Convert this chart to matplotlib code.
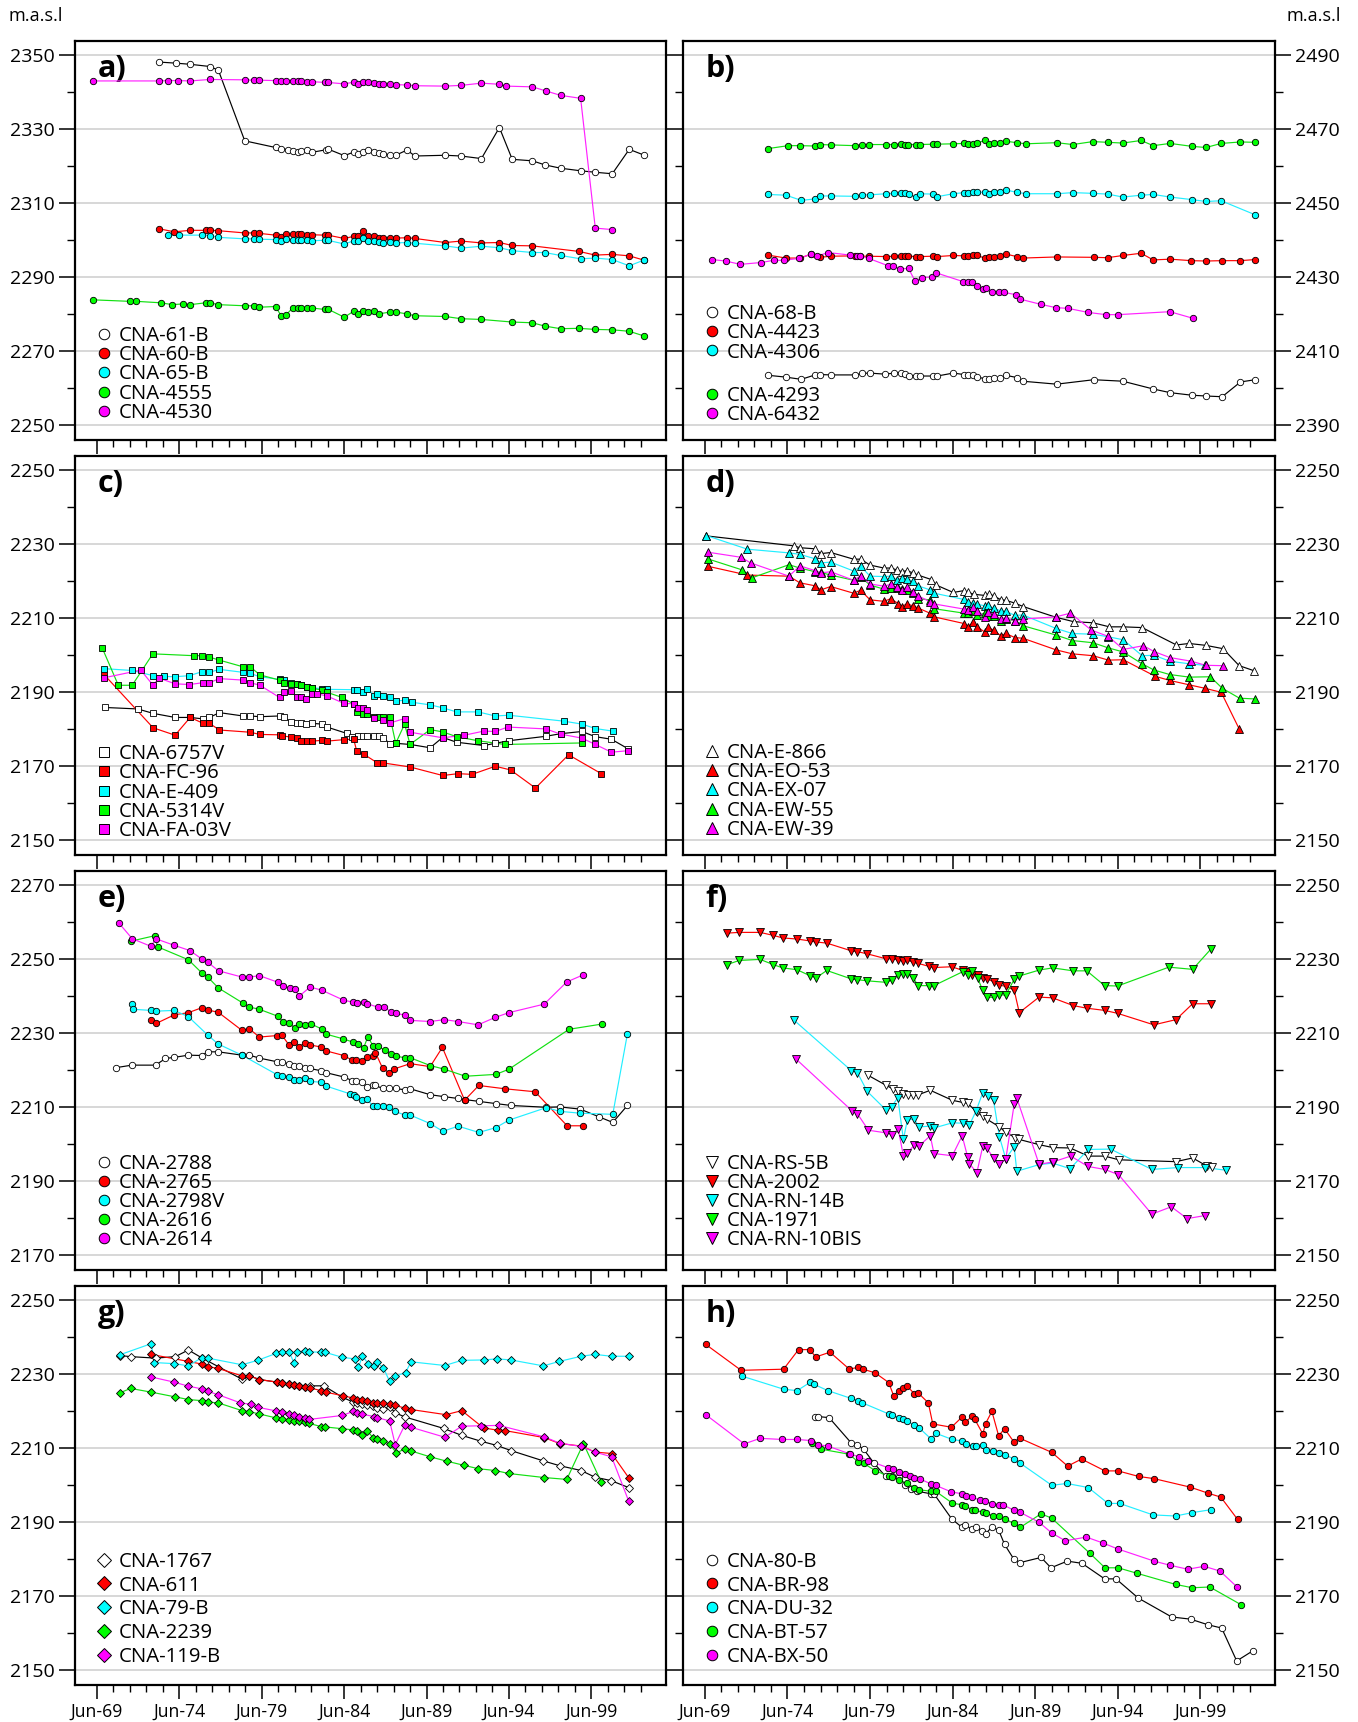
import matplotlib
matplotlib.use('Agg')
import matplotlib.pyplot as plt
from matplotlib.lines import Line2D

plt.rcParams['font.family'] = ['Open Sans', 'DejaVu Sans']

#============================================
# data: decimal years (Jun-69 = 1969.45) and head (m.a.s.l)
#============================================
# ---- panel a
a61_t = [1973.24, 1974.27, 1975.11, 1976.31, 1976.82, 1978.42, 1980.29, 1980.64, 1981.05, 1981.35, 1981.65, 1981.83, 1982.21, 1982.49, 1983.38, 1983.46, 1984.46, 1985.06, 1985.28, 1985.60, 1985.87, 1986.28, 1986.55, 1986.82, 1987.23, 1987.58, 1988.26, 1988.75, 1990.59, 1991.54, 1992.78, 1993.87, 1994.65, 1995.87, 1996.63, 1997.58, 1998.80, 1999.69, 2000.72, 2001.75, 2002.67]
a61_h = [2348.2, 2347.9, 2347.6, 2347.0, 2346.0, 2326.9, 2325.1, 2324.8, 2324.5, 2324.2, 2323.8, 2324.2, 2324.4, 2323.8, 2324.5, 2324.7, 2322.9, 2323.9, 2323.4, 2323.8, 2324.4, 2324.0, 2323.6, 2323.4, 2323.1, 2323.0, 2324.4, 2322.8, 2323.0, 2322.8, 2322.1, 2330.5, 2321.9, 2321.5, 2320.4, 2319.5, 2318.8, 2318.4, 2318.0, 2324.6, 2323.0]
a60_t = [1973.24, 1974.14, 1975.11, 1976.04, 1976.31, 1976.82, 1978.42, 1978.96, 1979.26, 1980.29, 1980.64, 1980.94, 1981.35, 1981.65, 1981.83, 1982.21, 1982.49, 1983.27, 1983.46, 1984.46, 1985.06, 1985.28, 1985.60, 1985.87, 1986.28, 1986.55, 1986.82, 1987.23, 1987.58, 1988.26, 1988.75, 1990.59, 1991.54, 1992.78, 1993.87, 1994.65, 1995.87, 1998.69, 1999.69, 2000.72, 2001.75, 2002.67]
a60_h = [2303.1, 2302.3, 2302.7, 2302.7, 2302.7, 2302.6, 2302.0, 2302.0, 2301.9, 2301.4, 2301.0, 2301.7, 2301.6, 2301.6, 2301.6, 2301.4, 2301.5, 2301.4, 2301.4, 2300.5, 2301.1, 2301.1, 2302.5, 2301.2, 2301.3, 2300.5, 2300.7, 2300.6, 2300.6, 2300.7, 2300.5, 2299.4, 2299.8, 2299.3, 2299.4, 2298.6, 2298.5, 2297.0, 2296.0, 2296.2, 2295.8, 2294.6]
a65_t = [1973.76, 1974.41, 1975.82, 1976.31, 1976.82, 1978.42, 1978.96, 1979.26, 1980.29, 1980.64, 1980.94, 1981.35, 1981.65, 1981.83, 1982.21, 1982.49, 1983.27, 1983.46, 1984.46, 1985.06, 1985.28, 1985.60, 1985.87, 1986.28, 1986.55, 1986.82, 1987.23, 1987.58, 1988.26, 1988.75, 1990.59, 1991.54, 1992.78, 1993.87, 1994.65, 1995.87, 1996.63, 1997.58, 1998.80, 1999.69, 2000.72, 2001.75, 2002.67]
a65_h = [2301.5, 2301.4, 2301.4, 2301.3, 2300.8, 2300.4, 2300.4, 2300.3, 2300.2, 2299.8, 2300.3, 2300.1, 2300.1, 2300.1, 2300.2, 2299.9, 2300.0, 2300.0, 2299.0, 2299.9, 2299.9, 2300.7, 2299.8, 2299.9, 2299.5, 2299.4, 2299.5, 2299.3, 2299.4, 2299.2, 2298.5, 2297.9, 2298.4, 2298.0, 2297.2, 2296.7, 2296.7, 2295.9, 2295.0, 2295.2, 2294.8, 2293.1, 2294.7]
a4555_t = [1969.23, 1971.43, 1971.83, 1973.33, 1974.03, 1974.65, 1975.11, 1976.04, 1976.31, 1976.82, 1978.42, 1978.96, 1979.26, 1980.29, 1980.64, 1980.94, 1981.35, 1981.65, 1981.83, 1982.21, 1982.49, 1983.27, 1983.46, 1984.46, 1985.06, 1985.28, 1985.60, 1985.87, 1986.28, 1986.55, 1987.23, 1987.58, 1988.26, 1988.75, 1990.59, 1991.54, 1992.78, 1994.65, 1995.87, 1996.63, 1997.58, 1998.69, 1999.69, 2000.72, 2001.75, 2002.67]
a4555_h = [2283.9, 2283.5, 2283.5, 2283.1, 2282.6, 2282.8, 2282.6, 2283.1, 2283.1, 2282.6, 2282.3, 2282.3, 2281.9, 2282.1, 2279.5, 2279.9, 2281.8, 2281.8, 2281.8, 2281.8, 2281.7, 2281.3, 2281.4, 2279.2, 2280.9, 2280.1, 2280.9, 2280.7, 2280.9, 2280.1, 2280.6, 2280.6, 2280.1, 2279.6, 2279.4, 2278.8, 2278.6, 2277.9, 2277.7, 2276.8, 2276.1, 2276.2, 2275.9, 2275.8, 2275.4, 2274.1]
a4530_t = [1969.23, 1973.24, 1973.76, 1974.36, 1975.11, 1976.31, 1978.42, 1978.96, 1979.26, 1980.29, 1980.64, 1980.94, 1981.35, 1981.65, 1981.83, 1982.21, 1982.49, 1983.27, 1983.46, 1984.46, 1985.06, 1985.28, 1985.60, 1985.87, 1986.28, 1986.55, 1986.82, 1987.23, 1987.58, 1988.26, 1988.75, 1990.59, 1991.54, 1992.78, 1993.87, 1994.30, 1995.87, 1996.69, 1997.58, 1998.80, 1999.69, 2000.72]
a4530_h = [2343.1, 2343.1, 2343.2, 2343.2, 2343.1, 2343.5, 2343.4, 2343.3, 2343.3, 2343.2, 2343.1, 2343.1, 2343.1, 2343.1, 2343.1, 2342.9, 2342.9, 2342.7, 2342.7, 2342.3, 2342.8, 2342.3, 2342.9, 2342.9, 2342.5, 2342.3, 2342.3, 2342.2, 2342.1, 2342.0, 2341.8, 2341.7, 2341.9, 2342.5, 2342.2, 2341.7, 2341.5, 2340.4, 2339.2, 2338.4, 2303.3, 2302.9]

# ---- panel b
b68_t = [1973.27, 1974.36, 1975.28, 1976.12, 1976.44, 1977.09, 1978.53, 1978.96, 1979.42, 1980.37, 1980.91, 1981.35, 1981.56, 1981.81, 1982.21, 1982.46, 1983.24, 1983.52, 1984.49, 1985.14, 1985.41, 1985.68, 1985.95, 1986.39, 1986.66, 1986.93, 1987.34, 1987.66, 1988.34, 1988.69, 1990.75, 1993.00, 1994.76, 1996.60, 1997.63, 1998.96, 1999.80, 2000.78, 2001.89, 2002.78]
b68_h = [2403.5, 2403.0, 2402.4, 2403.6, 2403.7, 2403.6, 2403.6, 2404.0, 2404.1, 2403.8, 2404.1, 2404.2, 2403.8, 2403.4, 2403.4, 2403.3, 2403.3, 2403.3, 2404.1, 2403.7, 2403.7, 2403.5, 2403.0, 2402.6, 2402.6, 2402.7, 2402.7, 2403.5, 2402.9, 2401.9, 2401.1, 2402.3, 2401.9, 2399.8, 2398.8, 2398.1, 2397.9, 2397.7, 2401.7, 2402.3]
b4423_t = [1973.27, 1974.36, 1975.22, 1975.90, 1976.39, 1977.09, 1978.53, 1978.83, 1979.37, 1980.43, 1980.91, 1981.35, 1981.56, 1981.75, 1982.21, 1982.46, 1983.24, 1983.52, 1984.49, 1985.14, 1985.41, 1985.68, 1985.95, 1986.39, 1986.66, 1986.93, 1987.34, 1987.66, 1988.34, 1988.69, 1990.75, 1993.00, 1993.84, 1994.76, 1995.87, 1996.60, 1997.63, 1998.91, 1999.83, 2000.78, 2001.89, 2002.78]
b4423_h = [2436.0, 2435.2, 2435.2, 2436.3, 2435.4, 2435.7, 2435.8, 2435.7, 2435.7, 2435.6, 2435.7, 2435.7, 2435.7, 2435.7, 2435.6, 2435.6, 2435.7, 2435.6, 2435.9, 2435.8, 2435.7, 2435.9, 2435.9, 2435.2, 2435.6, 2435.5, 2435.7, 2436.3, 2435.6, 2435.2, 2435.5, 2435.4, 2435.3, 2435.9, 2436.5, 2434.7, 2434.9, 2434.5, 2434.4, 2434.5, 2434.5, 2434.8]
b4306_t = [1973.27, 1974.36, 1975.28, 1976.12, 1976.39, 1977.09, 1978.53, 1978.96, 1979.42, 1980.43, 1980.91, 1981.35, 1981.56, 1981.81, 1982.21, 1982.46, 1983.24, 1983.52, 1984.49, 1985.14, 1985.41, 1985.68, 1985.95, 1986.39, 1986.66, 1986.93, 1987.34, 1987.66, 1988.34, 1988.88, 1990.78, 1991.73, 1992.95, 1993.84, 1994.76, 1995.87, 1996.60, 1997.63, 1998.96, 1999.80, 2000.72, 2002.78]
b4306_h = [2452.4, 2452.2, 2450.8, 2451.2, 2452.0, 2452.0, 2451.9, 2452.3, 2452.3, 2452.6, 2452.7, 2452.8, 2452.7, 2452.5, 2451.6, 2452.6, 2452.5, 2451.8, 2452.6, 2452.9, 2452.8, 2453.0, 2453.0, 2453.0, 2452.4, 2453.1, 2453.0, 2453.6, 2453.0, 2452.6, 2452.6, 2452.9, 2452.7, 2452.5, 2451.7, 2452.2, 2452.4, 2451.7, 2451.0, 2450.5, 2450.7, 2446.9]
b4293_t = [1973.27, 1974.49, 1975.22, 1976.12, 1976.39, 1977.09, 1978.53, 1978.96, 1979.37, 1980.43, 1980.91, 1981.35, 1981.56, 1981.75, 1982.21, 1982.46, 1983.24, 1983.52, 1984.49, 1985.14, 1985.41, 1985.68, 1985.95, 1986.39, 1986.66, 1986.93, 1987.34, 1987.66, 1988.34, 1988.88, 1990.75, 1991.73, 1992.95, 1993.84, 1994.76, 1995.87, 1996.60, 1997.63, 1998.96, 1999.80, 2000.72, 2001.89, 2002.78]
b4293_h = [2464.8, 2465.6, 2465.6, 2465.5, 2465.9, 2465.8, 2465.6, 2465.9, 2465.9, 2465.9, 2465.9, 2466.0, 2465.9, 2465.9, 2465.9, 2465.9, 2466.0, 2466.0, 2466.1, 2466.2, 2466.1, 2466.1, 2466.2, 2467.1, 2466.0, 2466.3, 2466.3, 2466.8, 2466.4, 2466.1, 2466.4, 2465.9, 2466.7, 2466.5, 2466.3, 2467.0, 2465.6, 2466.2, 2465.4, 2465.1, 2466.2, 2466.6, 2466.5]
b6432_t = [1969.88, 1970.70, 1971.59, 1972.86, 1973.62, 1974.22, 1975.14, 1975.90, 1976.25, 1976.90, 1978.26, 1978.64, 1978.85, 1979.37, 1980.56, 1980.86, 1981.27, 1981.78, 1982.19, 1982.57, 1983.19, 1983.46, 1985.11, 1985.41, 1985.60, 1985.95, 1986.28, 1986.47, 1986.85, 1987.28, 1987.58, 1988.28, 1988.53, 1989.78, 1990.70, 1991.43, 1992.67, 1993.73, 1994.49, 1997.61, 1999.02]
b6432_h = [2434.8, 2434.4, 2433.5, 2434.0, 2434.6, 2434.6, 2435.1, 2436.3, 2435.7, 2436.7, 2436.0, 2435.8, 2435.8, 2435.1, 2433.1, 2433.0, 2432.3, 2432.4, 2428.9, 2429.9, 2430.1, 2431.2, 2428.8, 2428.7, 2428.6, 2427.7, 2426.8, 2427.2, 2426.1, 2426.1, 2425.9, 2425.3, 2424.1, 2422.7, 2421.8, 2421.6, 2420.5, 2419.9, 2419.9, 2420.7, 2418.9]

# ---- panel c
c6757_t = [1969.91, 1971.92, 1972.86, 1974.19, 1975.11, 1975.90, 1976.28, 1976.88, 1978.31, 1978.75, 1979.34, 1980.53, 1980.83, 1981.21, 1981.56, 1981.81, 1982.16, 1982.49, 1983.11, 1983.41, 1984.60, 1984.92, 1985.28, 1985.57, 1985.85, 1986.28, 1986.55, 1986.82, 1987.23, 1987.58, 1988.45, 1989.67, 1990.43, 1991.27, 1992.92, 1993.62, 1994.44, 1996.69, 1997.58, 1998.88, 1999.69, 2000.67, 2001.65]
c6757_h = [2185.9, 2185.5, 2184.3, 2183.2, 2183.2, 2182.8, 2183.2, 2184.5, 2183.6, 2183.6, 2183.4, 2183.6, 2183.2, 2181.9, 2181.6, 2181.6, 2181.3, 2181.6, 2181.4, 2180.6, 2178.9, 2178.0, 2178.2, 2178.3, 2178.3, 2178.3, 2178.1, 2177.7, 2176.1, 2176.2, 2175.9, 2175.0, 2177.8, 2176.5, 2175.6, 2176.2, 2176.9, 2178.1, 2178.8, 2179.4, 2178.0, 2177.3, 2174.8]
cFC96_t = [1969.86, 1972.86, 1974.19, 1975.11, 1975.90, 1976.28, 1976.88, 1978.75, 1979.34, 1980.53, 1980.70, 1981.21, 1981.56, 1981.86, 1982.21, 1982.49, 1983.11, 1983.41, 1984.44, 1985.03, 1985.22, 1985.66, 1986.47, 1986.82, 1988.45, 1990.43, 1991.37, 1992.21, 1993.62, 1994.55, 1996.06, 1998.07, 2000.05]
cFC96_h = [2194.9, 2180.4, 2178.4, 2183.2, 2181.6, 2181.6, 2179.8, 2179.2, 2178.6, 2178.5, 2178.2, 2177.9, 2177.7, 2176.9, 2176.8, 2176.8, 2177.0, 2176.8, 2177.2, 2177.3, 2174.0, 2173.2, 2170.9, 2170.9, 2169.8, 2167.5, 2168.0, 2167.8, 2170.0, 2169.0, 2164.1, 2173.1, 2168.0]
cE409_t = [1969.86, 1971.59, 1972.86, 1973.52, 1974.19, 1975.06, 1975.85, 1976.28, 1976.88, 1978.31, 1978.75, 1979.34, 1980.53, 1980.83, 1981.21, 1981.56, 1981.86, 1982.21, 1982.49, 1983.11, 1983.41, 1985.03, 1985.22, 1985.57, 1985.85, 1986.28, 1986.47, 1986.82, 1987.23, 1987.58, 1988.12, 1988.56, 1989.67, 1990.43, 1991.27, 1992.57, 1993.62, 1994.44, 1997.77, 1998.88, 1999.69, 2000.75]
cE409_h = [2196.4, 2195.9, 2194.5, 2194.3, 2194.2, 2194.5, 2195.6, 2195.4, 2196.2, 2195.4, 2195.1, 2194.2, 2193.5, 2193.2, 2192.4, 2192.2, 2192.0, 2191.5, 2191.2, 2191.0, 2190.8, 2190.7, 2190.7, 2190.2, 2190.9, 2189.1, 2189.6, 2189.1, 2188.6, 2187.7, 2187.8, 2187.3, 2186.6, 2185.8, 2184.7, 2184.7, 2183.6, 2183.8, 2182.2, 2181.4, 2180.2, 2179.5]
c5314_t = [1969.78, 1970.75, 1971.59, 1972.84, 1975.33, 1975.82, 1976.28, 1976.88, 1978.31, 1978.75, 1979.34, 1980.53, 1980.83, 1981.21, 1981.56, 1981.86, 1982.21, 1982.49, 1983.11, 1983.41, 1984.33, 1985.03, 1985.22, 1985.57, 1985.85, 1986.28, 1986.55, 1986.82, 1987.23, 1987.58, 1988.12, 1988.45, 1989.67, 1990.43, 1991.27, 1992.57, 1994.19, 1998.88]
c5314_h = [2201.9, 2191.9, 2191.9, 2200.4, 2199.9, 2199.9, 2199.5, 2198.7, 2196.9, 2196.9, 2194.7, 2193.3, 2192.6, 2192.3, 2192.2, 2192.0, 2191.5, 2191.1, 2190.6, 2190.0, 2188.6, 2186.8, 2184.8, 2184.1, 2184.2, 2183.4, 2183.2, 2183.2, 2183.4, 2176.2, 2181.4, 2175.9, 2179.9, 2179.3, 2178.0, 2176.9, 2175.9, 2176.3]
cFA03_t = [1969.86, 1972.11, 1972.84, 1973.24, 1974.19, 1975.06, 1975.90, 1976.28, 1976.88, 1978.31, 1978.75, 1979.34, 1980.53, 1980.83, 1981.21, 1981.56, 1981.86, 1982.16, 1982.49, 1982.78, 1983.41, 1984.44, 1985.03, 1985.28, 1985.57, 1985.85, 1986.28, 1986.82, 1987.23, 1988.12, 1988.45, 1990.43, 1991.75, 1992.92, 1993.62, 1994.38, 1996.69, 1997.58, 1998.88, 1999.69, 2000.67, 2001.65]
cFA03_h = [2193.9, 2196.0, 2192.0, 2193.8, 2192.3, 2192.1, 2192.6, 2192.6, 2193.7, 2193.3, 2192.6, 2191.9, 2188.6, 2190.1, 2190.4, 2188.8, 2188.8, 2188.2, 2189.6, 2189.6, 2189.0, 2187.0, 2186.9, 2185.7, 2185.7, 2185.1, 2183.0, 2182.4, 2181.7, 2182.9, 2179.2, 2177.7, 2178.4, 2179.5, 2179.4, 2180.6, 2180.1, 2178.7, 2177.6, 2175.9, 2173.8, 2174.2]

# ---- panel d
dE866_t = [1969.53, 1974.84, 1975.20, 1976.12, 1976.47, 1977.07, 1978.45, 1978.88, 1979.45, 1980.29, 1980.70, 1981.08, 1981.37, 1981.67, 1982.05, 1982.35, 1983.16, 1983.46, 1984.49, 1985.14, 1985.41, 1985.76, 1986.39, 1986.66, 1986.96, 1987.39, 1987.66, 1988.23, 1988.72, 1990.70, 1991.78, 1992.95, 1993.95, 1994.79, 1995.93, 1998.01, 1998.77, 1999.78, 2000.83, 2001.81, 2002.73]
dE866_h = [2232.3, 2229.6, 2229.1, 2228.8, 2227.5, 2227.8, 2226.0, 2226.0, 2224.4, 2223.6, 2223.6, 2223.1, 2222.6, 2222.9, 2222.3, 2221.7, 2220.5, 2219.0, 2217.0, 2217.5, 2217.0, 2216.5, 2216.2, 2216.7, 2216.0, 2215.0, 2214.9, 2214.1, 2213.2, 2210.3, 2209.1, 2208.8, 2207.7, 2207.7, 2207.5, 2202.8, 2203.2, 2202.7, 2201.8, 2197.2, 2195.8]
dEO53_t = [1969.61, 1972.02, 1974.54, 1975.20, 1976.12, 1976.47, 1977.07, 1978.45, 1978.88, 1979.45, 1980.29, 1980.70, 1981.16, 1981.37, 1981.67, 1982.05, 1982.35, 1983.08, 1983.33, 1985.14, 1985.41, 1985.68, 1985.95, 1986.39, 1986.60, 1986.93, 1987.39, 1987.66, 1988.23, 1988.72, 1990.70, 1991.70, 1992.95, 1993.89, 1994.79, 1996.74, 1997.61, 1998.80, 1999.72, 2000.72, 2001.81]
dEO53_h = [2224.1, 2221.7, 2221.4, 2219.6, 2218.8, 2217.7, 2218.6, 2216.8, 2217.6, 2215.0, 2214.6, 2215.3, 2214.0, 2213.2, 2213.9, 2213.4, 2212.8, 2211.4, 2210.4, 2208.6, 2207.7, 2209.0, 2207.7, 2206.3, 2207.6, 2206.8, 2205.2, 2205.9, 2204.8, 2204.6, 2201.5, 2200.4, 2199.9, 2198.7, 2198.8, 2194.3, 2193.2, 2192.0, 2191.1, 2190.0, 2180.1]
dEX07_t = [1969.53, 1972.02, 1974.54, 1975.20, 1976.12, 1976.47, 1977.07, 1978.45, 1978.88, 1979.45, 1980.29, 1980.70, 1981.08, 1981.37, 1981.67, 1982.05, 1982.35, 1983.08, 1983.33, 1985.14, 1985.41, 1985.68, 1985.95, 1986.39, 1986.60, 1986.93, 1987.39, 1987.66, 1988.23, 1988.72, 1990.70, 1991.70, 1992.95, 1993.89, 1994.79, 1995.93, 1996.66, 1997.61, 1998.80, 1999.72]
dEX07_h = [2232.4, 2228.7, 2227.7, 2227.3, 2226.1, 2225.0, 2225.2, 2222.8, 2224.1, 2221.4, 2221.3, 2221.4, 2220.4, 2220.8, 2220.7, 2220.0, 2218.8, 2217.7, 2216.8, 2215.1, 2214.3, 2214.1, 2213.8, 2213.4, 2213.6, 2212.7, 2212.0, 2211.9, 2210.8, 2210.9, 2207.3, 2205.9, 2205.7, 2205.0, 2204.2, 2199.9, 2200.0, 2198.4, 2197.7, 2197.3]
dEW55_t = [1969.61, 1971.70, 1972.32, 1974.54, 1975.20, 1976.12, 1976.47, 1977.07, 1978.45, 1978.88, 1979.45, 1980.29, 1980.70, 1981.16, 1981.37, 1981.67, 1982.05, 1982.35, 1983.08, 1983.33, 1985.14, 1985.41, 1985.68, 1985.95, 1986.39, 1986.60, 1986.93, 1987.39, 1987.66, 1988.23, 1988.72, 1990.70, 1991.70, 1992.95, 1993.89, 1994.79, 1995.93, 1996.66, 1997.61, 1998.80, 2000.07, 2000.78, 2001.83, 2002.78]
dEW55_h = [2226.1, 2223.1, 2221.0, 2224.5, 2223.6, 2222.6, 2222.4, 2221.7, 2220.3, 2221.2, 2219.0, 2217.9, 2218.1, 2218.1, 2217.8, 2217.6, 2216.8, 2215.3, 2215.0, 2212.6, 2211.4, 2211.4, 2212.0, 2210.8, 2211.4, 2210.6, 2210.5, 2209.3, 2209.8, 2209.3, 2208.0, 2205.5, 2204.0, 2203.4, 2202.0, 2200.9, 2197.7, 2196.0, 2194.8, 2194.1, 2194.2, 2191.1, 2188.4, 2188.2]
dEW39_t = [1969.61, 1971.65, 1972.21, 1974.54, 1975.20, 1976.12, 1976.47, 1977.07, 1978.45, 1978.88, 1979.45, 1980.29, 1980.70, 1981.08, 1981.37, 1981.67, 1982.05, 1982.35, 1983.08, 1983.33, 1985.14, 1985.41, 1985.68, 1985.95, 1986.39, 1986.60, 1986.93, 1987.39, 1987.66, 1988.23, 1988.72, 1990.70, 1991.59, 1992.86, 1993.89, 1994.79, 1996.01, 1996.66, 1997.61, 1998.91, 1999.78, 2000.83]
dEW39_h = [2227.9, 2226.5, 2225.0, 2221.4, 2224.2, 2222.9, 2222.3, 2222.6, 2220.3, 2221.5, 2219.3, 2218.7, 2219.2, 2218.4, 2217.7, 2218.4, 2217.1, 2216.1, 2214.5, 2213.9, 2212.5, 2212.3, 2213.2, 2212.1, 2210.4, 2211.8, 2211.1, 2209.7, 2210.2, 2209.3, 2209.8, 2210.4, 2211.4, 2206.8, 2205.1, 2201.6, 2202.6, 2201.0, 2199.4, 2198.4, 2197.3, 2197.2]

# ---- panel e
e2788_t = [1970.58, 1971.57, 1973.01, 1973.61, 1974.14, 1975.00, 1975.80, 1976.18, 1976.81, 1978.25, 1978.70, 1979.31, 1980.39, 1980.68, 1981.11, 1981.42, 1981.69, 1982.05, 1982.36, 1983.03, 1983.32, 1984.43, 1984.95, 1985.20, 1985.56, 1985.84, 1986.18, 1986.35, 1986.78, 1987.19, 1987.62, 1988.13, 1988.46, 1989.67, 1990.48, 1991.33, 1991.76, 1992.62, 1993.66, 1994.57, 1996.71, 1997.55, 1998.78, 1999.93, 2000.75, 2001.64]
e2788_h = [2220.7, 2221.4, 2221.4, 2223.2, 2223.5, 2224.1, 2224.0, 2225.0, 2225.0, 2224.1, 2224.1, 2223.3, 2222.3, 2222.3, 2221.7, 2221.2, 2221.2, 2220.5, 2220.5, 2219.9, 2219.4, 2218.2, 2217.2, 2217.1, 2216.8, 2215.4, 2215.9, 2215.9, 2215.1, 2215.1, 2215.1, 2214.7, 2215.0, 2213.4, 2212.9, 2212.4, 2212.1, 2211.6, 2211.0, 2210.5, 2210.0, 2210.1, 2209.5, 2207.4, 2205.9, 2210.5]
e2765_t = [1972.74, 1973.06, 1974.14, 1975.00, 1975.80, 1976.18, 1976.81, 1978.25, 1978.70, 1979.31, 1980.39, 1980.68, 1981.11, 1981.42, 1981.69, 1982.05, 1982.36, 1983.03, 1983.32, 1984.43, 1984.95, 1985.20, 1985.56, 1985.84, 1986.18, 1986.35, 1986.78, 1987.19, 1987.50, 1988.46, 1989.67, 1990.41, 1991.76, 1992.62, 1994.21, 1996.04, 1997.98, 1998.97]
e2765_h = [2233.6, 2232.7, 2235.0, 2235.6, 2236.9, 2236.3, 2235.7, 2230.8, 2231.2, 2229.0, 2229.4, 2229.5, 2226.8, 2227.7, 2226.4, 2227.3, 2226.9, 2226.3, 2225.3, 2224.0, 2222.7, 2222.8, 2222.4, 2223.5, 2223.8, 2224.8, 2220.6, 2219.3, 2220.4, 2221.8, 2221.0, 2226.2, 2211.9, 2215.9, 2215.0, 2214.2, 2205.0, 2205.0]
e2798_t = [1971.59, 1971.66, 1972.74, 1973.06, 1974.14, 1975.00, 1976.18, 1976.81, 1978.25, 1980.39, 1980.68, 1981.11, 1981.42, 1981.69, 1982.05, 1982.36, 1983.03, 1983.32, 1984.83, 1985.03, 1985.20, 1985.56, 1985.84, 1986.18, 1986.42, 1986.78, 1987.19, 1987.53, 1988.13, 1988.46, 1989.67, 1990.44, 1991.37, 1992.62, 1993.66, 1994.43, 1996.71, 1997.55, 1998.78, 2000.75, 2001.64]
e2798_h = [2238.0, 2236.5, 2236.2, 2236.0, 2236.2, 2234.5, 2229.5, 2227.1, 2224.1, 2218.8, 2218.5, 2218.2, 2217.4, 2217.3, 2217.9, 2217.0, 2216.8, 2215.8, 2213.6, 2213.3, 2212.9, 2212.0, 2212.3, 2210.3, 2210.4, 2210.3, 2210.0, 2208.9, 2207.9, 2207.9, 2205.6, 2203.5, 2204.9, 2203.2, 2204.5, 2206.5, 2209.9, 2208.9, 2208.4, 2208.1, 2229.9]
e2616_t = [1971.49, 1972.96, 1973.13, 1975.00, 1975.80, 1976.18, 1976.81, 1978.30, 1978.70, 1979.31, 1980.44, 1980.72, 1981.11, 1981.47, 1981.69, 1982.05, 1982.41, 1983.08, 1983.34, 1984.40, 1985.00, 1985.27, 1985.63, 1985.89, 1986.20, 1986.49, 1986.90, 1987.29, 1987.62, 1988.13, 1988.46, 1989.67, 1990.53, 1991.81, 1993.66, 1994.45, 1998.10, 2000.08]
e2616_h = [2254.9, 2256.4, 2253.4, 2249.9, 2246.4, 2245.2, 2242.3, 2238.2, 2237.1, 2236.5, 2234.6, 2233.2, 2232.8, 2231.4, 2232.4, 2232.3, 2232.6, 2231.2, 2229.8, 2228.5, 2227.6, 2227.0, 2226.0, 2229.1, 2226.6, 2226.7, 2225.4, 2224.3, 2223.8, 2223.4, 2223.4, 2221.3, 2220.3, 2218.4, 2218.9, 2220.3, 2231.1, 2232.5]
e2614_t = [1970.77, 1971.59, 1972.74, 1973.01, 1974.14, 1975.08, 1975.82, 1976.18, 1976.83, 1978.27, 1978.68, 1979.31, 1980.44, 1980.72, 1981.16, 1981.45, 1981.71, 1982.38, 1983.08, 1984.40, 1985.00, 1985.24, 1985.63, 1985.84, 1986.49, 1986.88, 1987.31, 1987.62, 1988.15, 1988.46, 1989.67, 1990.53, 1991.35, 1992.58, 1993.61, 1994.45, 1996.59, 1997.96, 1998.95]
e2614_h = [2259.9, 2255.6, 2253.5, 2255.6, 2253.8, 2252.4, 2250.1, 2249.2, 2246.9, 2245.2, 2245.2, 2245.6, 2243.8, 2242.9, 2242.3, 2242.0, 2240.0, 2242.5, 2241.7, 2239.0, 2238.4, 2238.1, 2238.6, 2238.0, 2237.1, 2237.0, 2235.8, 2235.4, 2234.9, 2233.5, 2233.2, 2233.7, 2233.2, 2232.3, 2234.3, 2235.6, 2237.9, 2243.9, 2245.8]

# ---- panel f
fRS5B_t = [1979.35, 1980.44, 1980.82, 1981.16, 1981.47, 1981.76, 1982.07, 1982.38, 1983.10, 1984.43, 1985.08, 1985.36, 1985.92, 1986.28, 1986.52, 1987.29, 1987.67, 1988.25, 1988.49, 1989.69, 1990.53, 1991.57, 1992.67, 1993.66, 1994.52, 1997.98, 1998.99, 1999.86, 2000.15]
fRS5B_h = [2198.6, 2195.9, 2195.0, 2194.5, 2193.7, 2193.4, 2193.4, 2193.4, 2194.6, 2191.9, 2191.3, 2191.1, 2188.7, 2187.6, 2186.8, 2184.7, 2183.2, 2181.8, 2181.3, 2179.9, 2179.1, 2179.0, 2176.8, 2176.8, 2175.8, 2175.3, 2176.3, 2174.1, 2173.8]
f2002_t = [1970.80, 1971.52, 1972.79, 1973.58, 1974.16, 1975.03, 1975.80, 1976.18, 1976.83, 1978.32, 1978.68, 1979.28, 1980.39, 1980.75, 1981.13, 1981.47, 1981.71, 1982.07, 1982.38, 1983.03, 1983.32, 1984.40, 1985.08, 1985.36, 1985.63, 1985.96, 1986.28, 1986.54, 1986.93, 1987.24, 1987.67, 1988.18, 1988.49, 1989.69, 1990.51, 1991.76, 1992.58, 1993.66, 1994.45, 1996.64, 1997.98, 1998.99, 2000.08]
f2002_h = [2237.1, 2237.3, 2237.3, 2236.5, 2235.8, 2235.5, 2235.0, 2234.7, 2234.4, 2232.3, 2232.1, 2231.5, 2230.2, 2230.2, 2229.9, 2229.6, 2229.8, 2229.2, 2228.9, 2228.1, 2227.8, 2228.0, 2227.0, 2226.6, 2225.9, 2225.8, 2225.0, 2224.7, 2224.0, 2223.1, 2222.7, 2221.7, 2215.6, 2219.8, 2219.6, 2217.5, 2216.8, 2216.2, 2215.4, 2212.3, 2213.7, 2218.0, 2218.0]
fRN14_t = [1974.86, 1978.32, 1978.68, 1979.28, 1980.39, 1980.75, 1981.13, 1981.47, 1981.71, 1982.12, 1982.43, 1983.10, 1983.32, 1984.43, 1985.08, 1985.46, 1985.87, 1986.28, 1986.59, 1986.93, 1987.29, 1987.67, 1988.18, 1988.34, 1989.69, 1990.51, 1991.57, 1992.67, 1994.02, 1996.52, 1998.13, 1999.71, 2000.99]
fRN14_h = [2213.5, 2199.9, 2199.4, 2194.3, 2189.4, 2190.1, 2192.6, 2181.3, 2186.6, 2186.8, 2184.7, 2184.9, 2184.4, 2185.8, 2185.7, 2185.1, 2189.0, 2194.0, 2193.1, 2191.9, 2182.0, 2176.1, 2179.3, 2172.7, 2174.5, 2174.9, 2173.4, 2178.6, 2178.7, 2173.2, 2173.7, 2173.7, 2173.0]
f1971_t = [1970.80, 1971.52, 1972.79, 1973.58, 1974.16, 1975.03, 1975.80, 1976.18, 1976.83, 1978.32, 1978.68, 1979.28, 1980.39, 1980.75, 1981.13, 1981.47, 1981.71, 1982.07, 1982.38, 1983.03, 1983.32, 1985.08, 1985.36, 1985.63, 1985.96, 1986.28, 1986.54, 1986.93, 1987.24, 1987.67, 1988.18, 1988.49, 1989.69, 1990.51, 1991.76, 1992.58, 1993.66, 1994.45, 1997.55, 1998.99, 2000.08]
f1971_h = [2228.6, 2229.7, 2230.0, 2228.6, 2227.7, 2227.2, 2225.6, 2225.0, 2227.0, 2224.7, 2224.5, 2224.2, 2223.8, 2224.3, 2225.9, 2226.1, 2226.1, 2224.9, 2222.9, 2222.9, 2222.9, 2226.7, 2225.9, 2226.8, 2225.0, 2221.6, 2219.8, 2219.7, 2220.5, 2220.3, 2224.6, 2225.5, 2227.1, 2227.7, 2226.9, 2226.9, 2222.9, 2222.8, 2227.9, 2227.3, 2232.7]
fRN10_t = [1974.98, 1978.37, 1978.68, 1979.35, 1980.39, 1980.75, 1981.16, 1981.47, 1981.71, 1982.12, 1982.43, 1983.10, 1983.32, 1984.43, 1985.03, 1985.36, 1985.46, 1985.92, 1986.28, 1986.52, 1986.93, 1987.29, 1987.67, 1988.18, 1988.34, 1989.69, 1990.51, 1991.61, 1992.65, 1993.66, 1994.50, 1996.52, 1997.70, 1998.66, 1999.71]
fRN10_h = [2203.0, 2189.0, 2188.3, 2183.8, 2183.1, 2182.6, 2184.0, 2176.9, 2177.7, 2179.7, 2179.6, 2182.3, 2177.5, 2176.9, 2182.3, 2176.6, 2174.8, 2172.3, 2179.5, 2179.0, 2176.3, 2174.6, 2175.9, 2190.8, 2192.5, 2174.6, 2175.2, 2176.8, 2174.0, 2173.2, 2171.8, 2161.1, 2163.1, 2159.9, 2160.7]

# ---- panel g
g1767_t = [1970.84, 1971.49, 1973.01, 1974.21, 1975.00, 1975.80, 1978.25, 1978.70, 1979.31, 1980.39, 1980.68, 1981.11, 1981.42, 1981.69, 1982.05, 1982.36, 1983.22, 1984.35, 1985.00, 1985.24, 1985.56, 1985.84, 1986.20, 1986.47, 1986.83, 1987.21, 1987.55, 1988.13, 1990.48, 1991.59, 1992.77, 1993.70, 1994.57, 1996.54, 1997.53, 1998.83, 1999.67, 2000.63, 2001.71]
g1767_h = [2235.1, 2234.8, 2234.4, 2234.8, 2236.6, 2234.5, 2228.7, 2229.6, 2228.6, 2227.9, 2227.7, 2227.3, 2227.1, 2226.9, 2226.7, 2226.9, 2226.9, 2223.8, 2222.5, 2222.3, 2222.0, 2221.8, 2221.5, 2221.0, 2220.6, 2221.3, 2219.6, 2218.5, 2215.4, 2213.5, 2211.9, 2210.8, 2209.4, 2206.6, 2205.3, 2204.0, 2202.2, 2201.3, 2199.4]
g611_t = [1972.74, 1975.00, 1975.80, 1976.18, 1976.81, 1978.25, 1978.70, 1979.31, 1980.39, 1980.68, 1981.11, 1981.42, 1981.69, 1982.05, 1982.36, 1983.03, 1983.32, 1984.40, 1985.00, 1985.24, 1985.56, 1985.84, 1986.20, 1986.47, 1986.83, 1987.21, 1987.55, 1988.13, 1988.51, 1990.63, 1991.59, 1992.91, 1993.80, 1994.21, 1996.59, 1997.53, 1998.87, 1999.67, 2000.68, 2001.71]
g611_h = [2235.4, 2233.5, 2232.8, 2232.1, 2231.6, 2229.6, 2229.6, 2228.6, 2227.9, 2227.7, 2227.3, 2227.0, 2226.9, 2226.7, 2226.4, 2225.6, 2225.2, 2224.2, 2223.6, 2223.1, 2223.0, 2222.9, 2222.3, 2222.3, 2222.2, 2222.0, 2221.6, 2220.9, 2220.5, 2219.1, 2220.2, 2215.5, 2214.9, 2214.8, 2212.9, 2211.3, 2210.6, 2209.0, 2208.6, 2202.1]
g79B_t = [1970.84, 1972.74, 1972.94, 1974.14, 1975.00, 1975.80, 1976.18, 1978.25, 1979.21, 1980.34, 1980.70, 1981.11, 1981.42, 1981.59, 1982.05, 1982.29, 1983.03, 1983.27, 1984.35, 1985.08, 1985.32, 1985.56, 1985.92, 1986.28, 1986.42, 1986.83, 1987.21, 1987.55, 1988.18, 1988.51, 1990.56, 1991.59, 1992.91, 1993.73, 1994.57, 1996.54, 1997.50, 1998.83, 1999.67, 2000.68, 2001.71]
g79B_h = [2235.3, 2238.3, 2233.2, 2232.9, 2232.3, 2234.5, 2234.4, 2232.6, 2233.8, 2235.7, 2236.1, 2236.1, 2233.0, 2236.0, 2236.4, 2236.1, 2236.0, 2236.0, 2234.6, 2234.2, 2231.9, 2235.0, 2232.8, 2232.3, 2233.3, 2231.8, 2228.1, 2229.5, 2230.5, 2233.4, 2232.4, 2233.8, 2233.9, 2234.2, 2233.9, 2232.3, 2233.5, 2234.9, 2235.4, 2234.9, 2234.9]
g2239_t = [1970.84, 1971.49, 1972.74, 1974.21, 1975.00, 1975.80, 1976.18, 1976.81, 1978.25, 1978.70, 1979.31, 1980.34, 1980.70, 1981.11, 1981.42, 1981.69, 1982.05, 1982.29, 1983.03, 1983.27, 1984.35, 1985.00, 1985.24, 1985.56, 1985.84, 1986.20, 1986.47, 1986.83, 1987.21, 1987.62, 1988.13, 1988.51, 1989.67, 1990.70, 1991.73, 1992.58, 1993.63, 1994.43, 1996.59, 1997.96, 1998.97, 2000.05]
g2239_h = [2225.0, 2226.2, 2225.2, 2223.9, 2223.2, 2222.9, 2222.5, 2222.3, 2220.2, 2219.9, 2219.3, 2218.2, 2217.9, 2217.7, 2217.5, 2217.5, 2217.2, 2216.8, 2215.9, 2215.8, 2215.3, 2215.0, 2214.8, 2213.7, 2214.8, 2212.9, 2212.4, 2212.0, 2211.1, 2208.8, 2209.8, 2209.3, 2207.7, 2206.5, 2205.4, 2204.5, 2204.0, 2203.2, 2202.1, 2201.6, 2211.3, 2200.9]
g119B_t = [1972.74, 1974.14, 1975.00, 1975.80, 1976.18, 1976.81, 1978.15, 1978.80, 1979.21, 1980.34, 1980.70, 1981.11, 1981.42, 1981.69, 1982.05, 1982.29, 1984.35, 1985.00, 1985.24, 1985.56, 1986.28, 1986.47, 1987.21, 1987.55, 1988.13, 1988.51, 1990.56, 1991.59, 1992.77, 1993.85, 1996.59, 1997.53, 1998.83, 1999.67, 2000.68, 2001.71]
g119B_h = [2229.3, 2227.9, 2226.8, 2226.1, 2225.4, 2224.5, 2222.3, 2221.9, 2221.1, 2220.1, 2219.7, 2219.3, 2219.1, 2218.6, 2218.2, 2217.8, 2218.9, 2220.0, 2219.5, 2219.2, 2218.6, 2218.3, 2217.4, 2211.0, 2216.3, 2215.7, 2213.0, 2216.0, 2216.1, 2216.2, 2213.1, 2211.4, 2210.5, 2209.0, 2207.7, 2195.8]

# ---- panel h
h80B_t = [1976.11, 1976.30, 1976.97, 1978.32, 1978.68, 1979.07, 1979.67, 1980.39, 1980.75, 1981.18, 1981.59, 1981.95, 1982.31, 1983.15, 1983.32, 1984.40, 1985.00, 1985.20, 1985.60, 1985.84, 1986.25, 1986.45, 1986.83, 1987.24, 1987.60, 1988.15, 1988.54, 1989.81, 1990.41, 1991.40, 1992.29, 1993.66, 1994.35, 1995.70, 1997.72, 1998.87, 1999.91, 2000.75, 2001.66, 2002.62]
h80B_h = [2218.6, 2218.6, 2218.3, 2211.4, 2211.0, 2209.7, 2206.1, 2202.4, 2202.4, 2202.3, 2200.2, 2199.0, 2198.4, 2197.7, 2197.7, 2190.9, 2188.7, 2189.4, 2188.1, 2188.7, 2187.6, 2186.9, 2188.7, 2187.9, 2184.0, 2180.1, 2179.1, 2180.5, 2177.7, 2179.5, 2178.9, 2174.7, 2174.7, 2169.5, 2164.4, 2163.8, 2162.3, 2161.4, 2152.5, 2155.2]
hBR98_t = [1969.50, 1971.64, 1974.21, 1975.12, 1975.80, 1976.16, 1977.02, 1978.20, 1978.70, 1979.04, 1979.76, 1980.58, 1980.89, 1981.18, 1981.47, 1981.71, 1982.14, 1982.36, 1982.98, 1983.25, 1984.38, 1985.03, 1985.22, 1985.63, 1985.80, 1986.28, 1986.45, 1986.83, 1987.24, 1987.60, 1988.15, 1988.54, 1990.46, 1991.42, 1992.26, 1993.68, 1994.47, 1995.72, 1996.66, 1998.85, 1999.91, 2000.70, 2001.71]
hBR98_h = [2238.1, 2231.1, 2231.4, 2236.7, 2236.7, 2234.7, 2236.0, 2231.4, 2231.9, 2231.4, 2230.4, 2227.8, 2224.1, 2225.6, 2226.3, 2226.8, 2224.7, 2225.0, 2222.3, 2216.6, 2215.7, 2218.5, 2217.0, 2218.7, 2217.8, 2213.9, 2216.7, 2220.0, 2213.4, 2215.3, 2211.8, 2212.7, 2208.9, 2205.2, 2207.1, 2203.9, 2203.9, 2202.4, 2201.8, 2199.5, 2197.9, 2196.8, 2190.8]
hDU32_t = [1971.71, 1974.21, 1975.03, 1975.84, 1976.06, 1976.90, 1978.30, 1978.75, 1978.99, 1980.58, 1980.77, 1981.23, 1981.47, 1981.71, 1982.14, 1982.41, 1983.13, 1983.42, 1984.43, 1985.03, 1985.27, 1985.70, 1985.87, 1986.28, 1986.47, 1986.88, 1987.24, 1987.60, 1988.18, 1988.54, 1990.46, 1991.37, 1992.67, 1993.87, 1994.57, 1996.59, 1997.96, 1998.95, 2000.08]
hDU32_h = [2229.5, 2226.0, 2225.6, 2227.9, 2227.3, 2225.6, 2223.5, 2222.9, 2222.3, 2219.3, 2219.1, 2218.2, 2217.9, 2217.4, 2216.2, 2215.6, 2212.6, 2214.1, 2212.4, 2212.0, 2211.2, 2210.5, 2210.5, 2210.8, 2209.6, 2209.2, 2208.8, 2208.3, 2207.1, 2206.0, 2200.0, 2200.5, 2199.4, 2195.1, 2195.1, 2192.0, 2191.7, 2192.6, 2193.4]
hBT57_t = [1975.92, 1976.45, 1978.20, 1978.75, 1979.07, 1979.76, 1980.58, 1980.77, 1981.23, 1981.66, 1982.14, 1982.41, 1983.13, 1983.42, 1984.43, 1985.03, 1985.22, 1985.63, 1985.80, 1986.28, 1986.47, 1986.88, 1987.24, 1987.60, 1988.18, 1988.54, 1989.81, 1990.46, 1992.77, 1993.68, 1994.47, 1995.63, 1997.96, 1998.97, 2000.03, 2001.93]
hBT57_h = [2211.4, 2209.8, 2208.4, 2206.2, 2205.9, 2204.0, 2202.4, 2202.3, 2201.4, 2200.5, 2199.4, 2198.8, 2198.4, 2198.4, 2195.2, 2194.7, 2194.4, 2193.4, 2193.3, 2192.7, 2192.6, 2191.7, 2191.6, 2190.9, 2189.7, 2188.6, 2192.3, 2191.1, 2181.6, 2177.7, 2177.7, 2176.2, 2173.2, 2172.3, 2172.5, 2167.7]
hBX50_t = [1969.50, 1971.83, 1972.79, 1974.14, 1975.03, 1975.87, 1976.30, 1976.90, 1978.22, 1978.78, 1979.35, 1980.51, 1980.87, 1981.23, 1981.59, 1981.85, 1982.14, 1982.48, 1983.13, 1983.42, 1984.38, 1985.03, 1985.27, 1985.63, 1986.13, 1986.42, 1986.83, 1987.24, 1987.53, 1988.18, 1988.54, 1989.69, 1990.46, 1991.28, 1992.55, 1993.56, 1994.45, 1996.66, 1997.60, 1998.70, 1999.69, 2000.65, 2001.66]
hBX50_h = [2219.1, 2211.2, 2212.7, 2212.4, 2212.4, 2212.1, 2211.0, 2210.6, 2208.5, 2207.7, 2206.7, 2204.8, 2204.3, 2203.7, 2203.1, 2202.6, 2201.9, 2201.7, 2200.4, 2200.0, 2198.2, 2197.7, 2197.2, 2196.9, 2195.9, 2195.8, 2195.0, 2194.7, 2194.7, 2193.2, 2192.7, 2190.0, 2187.1, 2185.0, 2186.0, 2184.4, 2182.8, 2179.5, 2178.4, 2177.3, 2178.1, 2176.8, 2172.6]

# well names per panel
a_names = ['CNA-61-B', 'CNA-60-B', 'CNA-65-B', 'CNA-4555', 'CNA-4530']
b_names = ['CNA-68-B', 'CNA-4423', 'CNA-4306', 'CNA-4293', 'CNA-6432']
c_names = ['CNA-6757V', 'CNA-FC-96', 'CNA-E-409', 'CNA-5314V', 'CNA-FA-03V']
d_names = ['CNA-E-866', 'CNA-EO-53', 'CNA-EX-07', 'CNA-EW-55', 'CNA-EW-39']
e_names = ['CNA-2788', 'CNA-2765', 'CNA-2798V', 'CNA-2616', 'CNA-2614']
f_names = ['CNA-RS-5B', 'CNA-2002', 'CNA-RN-14B', 'CNA-1971', 'CNA-RN-10BIS']
g_names = ['CNA-1767', 'CNA-611', 'CNA-79-B', 'CNA-2239', 'CNA-119-B']
h_names = ['CNA-80-B', 'CNA-BR-98', 'CNA-DU-32', 'CNA-BT-57', 'CNA-BX-50']

# tick labels
years_lab = [69, 74, 79, 84, 89, 94, 99]

#============================================
# plotting
#============================================
JUN = 0.45
face = ['white', '#ff0000', '#00ffff', '#00ff00', '#ff00ff']
lcol = ['black', '#ff0000', '#22eeff', '#11e011', '#ff22ff']
msize = {'o': 4.6, 's': 4.3, '^': 5.2, 'v': 5.2, 'D': 4.2}

panels = [
    ('a)', 2250, 'o', [(a61_t, a61_h), (a60_t, a60_h), (a65_t, a65_h), (a4555_t, a4555_h), (a4530_t, a4530_h)], a_names),
    ('b)', 2390, 'o', [(b68_t, b68_h), (b4423_t, b4423_h), (b4306_t, b4306_h), (b4293_t, b4293_h), (b6432_t, b6432_h)], b_names),
    ('c)', 2150, 's', [(c6757_t, c6757_h), (cFC96_t, cFC96_h), (cE409_t, cE409_h), (c5314_t, c5314_h), (cFA03_t, cFA03_h)], c_names),
    ('d)', 2150, '^', [(dE866_t, dE866_h), (dEO53_t, dEO53_h), (dEX07_t, dEX07_h), (dEW55_t, dEW55_h), (dEW39_t, dEW39_h)], d_names),
    ('e)', 2170, 'o', [(e2788_t, e2788_h), (e2765_t, e2765_h), (e2798_t, e2798_h), (e2616_t, e2616_h), (e2614_t, e2614_h)], e_names),
    ('f)', 2150, 'v', [(fRS5B_t, fRS5B_h), (f2002_t, f2002_h), (fRN14_t, fRN14_h), (f1971_t, f1971_h), (fRN10_t, fRN10_h)], f_names),
    ('g)', 2150, 'D', [(g1767_t, g1767_h), (g611_t, g611_h), (g79B_t, g79B_h), (g2239_t, g2239_h), (g119B_t, g119B_h)], g_names),
    ('h)', 2150, 'o', [(h80B_t, h80B_h), (hBR98_t, hBR98_h), (hDU32_t, hDU32_h), (hBT57_t, hBT57_h), (hBX50_t, hBX50_h)], h_names),
]

# legend bottom (axes fraction) per panel
leg_y = {'a)': 0.043, 'b)': 0.038, 'c)': 0.035, 'd)': 0.038,
         'e)': 0.049, 'f)': 0.049, 'g)': 0.046, 'h)': 0.046}

W, H = 1358, 1722
fig = plt.figure(figsize=(W/100, H/100), dpi=100)
col_left = [75, 683]
col_w = [591, 592]
row_top = [41, 456, 871, 1286]
ph = 399

LEG_FS = 14.7

def make_legend(ax, handles, labels, y0, lsp):
    return ax.legend(handles, labels, loc='lower left', bbox_to_anchor=(0.035, y0),
                     frameon=False, fontsize=LEG_FS, handlelength=0.8, handletextpad=0.35,
                     labelspacing=lsp, borderpad=0, borderaxespad=0)

for k, (lab, base, mk, series, names) in enumerate(panels):
    row, col = divmod(k, 2)
    ax = fig.add_axes([col_left[col]/W, 1 - (row_top[row] + ph)/H, col_w[col]/W, ph/H])

    for i, (t, h) in enumerate(series):
        n = min(len(t), len(h))
        ax.plot(t[:n], h[:n], '-', color=lcol[i], lw=0.85, zorder=2+i)
        ax.plot(t[:n], h[:n], ls='none', marker=mk, ms=msize[mk], mfc=face[i],
                mec='black', mew=0.6, zorder=10+i)

    ax.set_xlim(1968.12, 2003.98)
    ax.set_ylim(base - 4.0, base + 103.9)

    # x ticks
    ax.set_xticks([1900 + y + JUN for y in years_lab])
    ax.set_xticks([1969 + y + JUN for y in range(34)], minor=True)
    if row == 3:
        ax.set_xticklabels(['Jun-%02d' % y for y in years_lab])
    else:
        ax.set_xticklabels([])
    ax.tick_params(axis='x', which='major', direction='out', length=10, width=1.1,
                   labelsize=12.7, pad=3, top=False)
    ax.tick_params(axis='x', which='minor', direction='out', length=5, width=1.0, top=False)

    # y ticks
    ax.set_yticks(range(base, base + 101, 20))
    ax.set_yticks(range(base + 10, base + 100, 20), minor=True)
    if col == 0:
        ax.tick_params(axis='y', which='both', left=True, right=False, labelleft=True, labelright=False)
    else:
        ax.tick_params(axis='y', which='both', left=True, right=True, labelleft=False, labelright=True)
    ax.tick_params(axis='y', which='major', direction='out', length=11.5, width=1.1, labelsize=14, pad=3)
    ax.tick_params(axis='y', which='minor', direction='out', length=5.5, width=1.0)

    ax.yaxis.grid(True, which='major', color='#d4d4d4', lw=1.3)
    ax.set_axisbelow(True)
    for s in ax.spines.values():
        s.set_linewidth(1.6)

    ax.text(0.038, 0.93, lab, transform=ax.transAxes, fontsize=22, fontweight='bold',
            va='center', ha='left')

    # legend: markers only
    handles = [Line2D([], [], ls='none', marker=mk, ms=msize[mk] * 1.65, mfc=face[i],
                      mec='black', mew=0.7) for i in range(5)]
    y0 = leg_y[lab]
    if lab == 'b)':
        leg1 = make_legend(ax, handles[:3], names[:3], y0 + 0.156, -0.04)
        ax.add_artist(leg1)
        make_legend(ax, handles[3:], names[3:], y0, -0.04)
    else:
        lsp = 0.18 if lab in ('g)', 'h)') else -0.04
        make_legend(ax, handles, names, y0, lsp)

fig.text(9/W, 1 - 16/H, 'm.a.s.l', fontsize=13, ha='left', va='center')
fig.text(1341/W, 1 - 16/H, 'm.a.s.l', fontsize=13, ha='right', va='center')

fig.savefig('out.png', dpi=100)
